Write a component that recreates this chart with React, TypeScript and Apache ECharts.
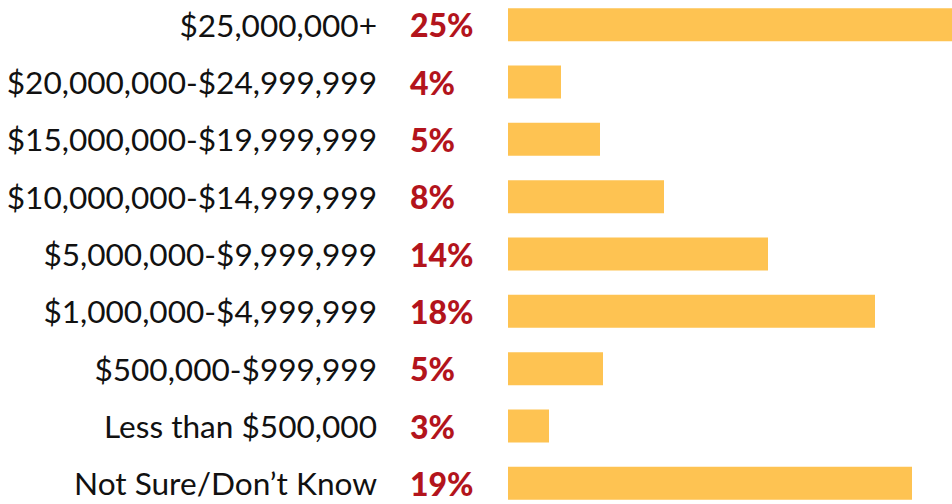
import React, { useEffect, useRef } from "react";
import * as echarts from "echarts";

const categories = [
  "$25,000,000+",
  "$20,000,000-$24,999,999",
  "$15,000,000-$19,999,999",
  "$10,000,000-$14,999,999",
  "$5,000,000-$9,999,999",
  "$1,000,000-$4,999,999",
  "$500,000-$999,999",
  "Less than $500,000",
  "Not Sure/Don\u2019t Know",
];
// percentages printed next to each bar
const shares = [25, 4, 5, 8, 14, 18, 5, 3, 19];
// bar extents as drawn in the picture (same unit, first bar runs off the edge)
const barLengths = [25, 2.65, 4.6, 7.8, 13.0, 18.35, 4.75, 2.05, 20.2];
const axisMax = 22.2;

export default function App() {
  const ref = useRef<HTMLDivElement>(null);
  useEffect(() => {
    if (!ref.current) return;
    const chart = echarts.init(ref.current, null, { renderer: "svg" });
    chart.setOption({
      animation: false,
      backgroundColor: "#ffffff",
      grid: { left: 508, right: 0, top: 0, bottom: 0, containLabel: false },
      xAxis: {
        type: "value",
        min: 0,
        max: axisMax,
        show: false,
      },
      yAxis: [
        {
          type: "category",
          data: categories,
          inverse: true,
          position: "left",
          axisLine: { show: false },
          axisTick: { show: false },
          splitLine: { show: false },
          axisLabel: {
            margin: 131,
            align: "right",
            fontFamily: "Lato",
            fontSize: 31.6,
            color: "#111111",
          },
        },
        {
          type: "category",
          data: shares.map((s) => `${s}%`),
          inverse: true,
          position: "left",
          axisLine: { show: false },
          axisTick: { show: false },
          splitLine: { show: false },
          axisLabel: {
            margin: 98,
            align: "left",
            fontFamily: "Lato",
            fontSize: 32,
            fontWeight: 900,
            color: "#B3141C",
          },
        },
      ],
      series: [
        {
          type: "bar",
          data: barLengths,
          barWidth: 33,
          itemStyle: { color: "#FEC352" },
          clip: true,
          silent: true,
        },
      ],
    });
    return () => chart.dispose();
  }, []);
  return (
    <div
      ref={ref}
      style={{ position: "fixed", left: 0, top: -4.2, width: 952, height: 516.4 }}
    />
  );
}
